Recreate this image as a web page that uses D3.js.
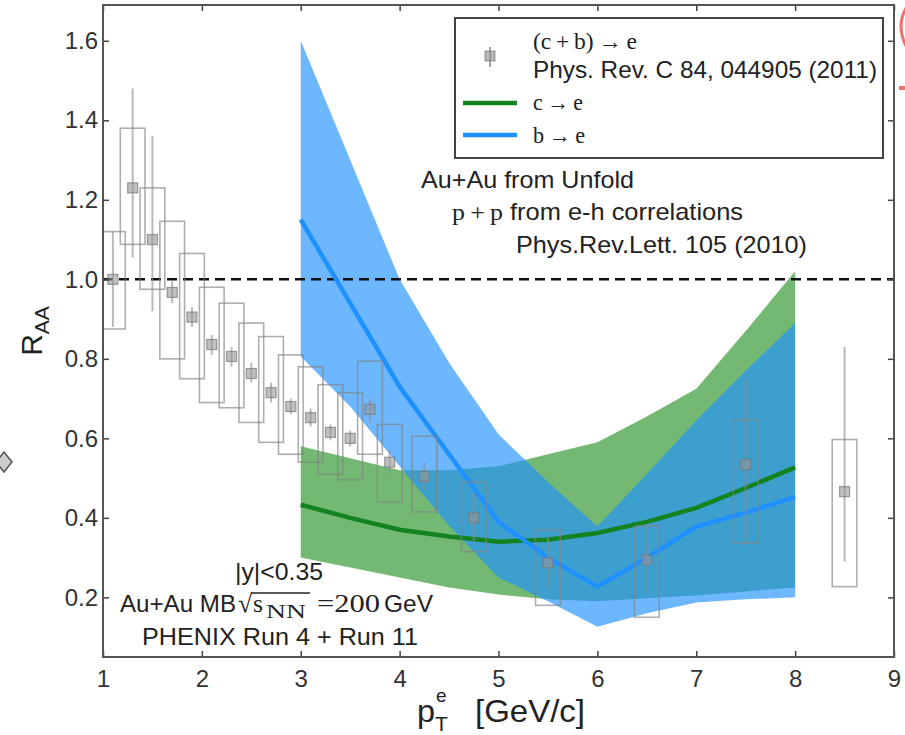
<!DOCTYPE html>
<html><head><meta charset="utf-8">
<script src="https://cdn.jsdelivr.net/npm/d3@7"></script>
<style>body{margin:0;background:#fff}svg{display:block}</style>
</head><body>
<svg id="chart" width="905" height="735"></svg>
<script>
// ---- data: (c+b)->e measurement ----
const ptBins   = [1.1,1.3,1.5,1.7,1.9,2.1,2.3,2.5,2.7,2.9,3.1,3.3,3.5,3.7,3.9,4.25,4.75,5.5,6.5,7.5,8.5];
const raa      = [1.00,1.23,1.10,0.967,0.905,0.836,0.806,0.763,0.715,0.68,0.652,0.615,0.60,0.673,0.54,0.504,0.40,0.287,0.295,0.534,0.466];
const statLow  = [0.88,1.055,0.92,0.94,0.88,0.81,0.78,0.74,0.69,0.66,0.63,0.595,0.58,0.64,0.51,0.47,0.34,0.22,0.21,0.33,0.29];
const statHigh = [1.12,1.48,1.36,0.995,0.93,0.86,0.83,0.79,0.74,0.70,0.675,0.635,0.62,0.70,0.57,0.54,0.46,0.35,0.38,0.75,0.83];
const sysLow   = [0.875,1.088,0.975,0.80,0.75,0.69,0.677,0.64,0.59,0.56,0.54,0.51,0.496,0.56,0.44,0.415,0.315,0.18,0.15,0.337,0.227];
const sysHigh  = [1.12,1.38,1.23,1.146,1.065,0.98,0.94,0.89,0.856,0.81,0.78,0.735,0.715,0.794,0.635,0.605,0.49,0.37,0.38,0.647,0.597];
// ---- data: unfolded c->e and b->e ----
const modelPt  = [3,3.5,4,4.5,5,5.5,6,6.5,7,7.5,8];
const cCentral = [0.433,0.40,0.37,0.353,0.34,0.345,0.362,0.39,0.425,0.475,0.527];
const cLow     = [0.30,0.275,0.25,0.225,0.207,0.195,0.19,0.198,0.205,0.215,0.225];
const cHigh    = [0.58,0.55,0.52,0.52,0.53,0.56,0.59,0.655,0.725,0.87,1.02];
const bCentral = [1.15,0.94,0.73,0.56,0.39,0.30,0.227,0.30,0.378,0.413,0.453];
const bLow     = [0.806,0.68,0.53,0.38,0.25,0.19,0.126,0.16,0.187,0.195,0.20];
const bHigh    = [1.60,1.30,1.00,0.79,0.61,0.49,0.378,0.51,0.645,0.77,0.89];
// ---- axes ----
const xTicks = [1,2,3,4,5,6,7,8,9];
const yTicks = [0.2,0.4,0.6,0.8,1.0,1.2,1.4,1.6];
const boxWidth = 0.25;
const refLine = 1.0;

const L=103, R=894, T=5, B=657;
const svg = d3.select('#chart');
const x = d3.scaleLinear().domain([1,9]).range([L,R]);
const y = d3.scaleLinear().domain([0.05,1.69]).range([B,T]);
const SANS = "'Liberation Sans', Arial, sans-serif";
const SERIF = "'Liberation Serif', 'DejaVu Serif', serif";
const txt = '#222';

svg.append('defs').append('clipPath').attr('id','clip')
  .append('rect').attr('x',L).attr('y',T).attr('width',R-L).attr('height',B-T);
const plot = svg.append('g').attr('clip-path','url(#clip)');

const mk = (lo,hi) => modelPt.map((p,i)=>({p, lo:lo[i], hi:hi[i]}));
const area = d3.area().x(d=>x(d.p)).y0(d=>y(d.lo)).y1(d=>y(d.hi));
const line = d3.line().x(d=>x(d.p)).y(d=>y(d.v));

plot.append('path').datum(mk(cLow,cHigh)).attr('d',area)
  .attr('fill','rgb(0,128,0)').attr('fill-opacity',0.55);
plot.append('path').datum(mk(bLow,bHigh)).attr('d',area)
  .attr('fill','rgb(30,144,255)').attr('fill-opacity',0.65);

plot.append('line').attr('x1',L).attr('x2',R).attr('y1',y(refLine)).attr('y2',y(refLine))
  .attr('stroke','#111').attr('stroke-width',2.5).attr('stroke-dasharray','10,6');

plot.append('path').datum(modelPt.map((p,i)=>({p,v:cCentral[i]}))).attr('d',line)
  .attr('fill','none').attr('stroke','rgb(20,130,30)').attr('stroke-width',4.5);
plot.append('path').datum(modelPt.map((p,i)=>({p,v:bCentral[i]}))).attr('d',line)
  .attr('fill','none').attr('stroke','rgb(30,144,255)').attr('stroke-width',4.5);

// data points
const pts = ptBins.map((p,i)=>({p,v:raa[i],sl:statLow[i],sh:statHigh[i],yl:sysLow[i],yh:sysHigh[i]}));
const pg = plot.append('g');
pg.selectAll('rect.sys').data(pts).join('rect').attr('class','sys')
  .attr('x',d=>x(d.p-boxWidth/2)).attr('width',d=>x(d.p+boxWidth/2)-x(d.p-boxWidth/2))
  .attr('y',d=>y(d.yh)).attr('height',d=>y(d.yl)-y(d.yh))
  .attr('fill','none').attr('stroke','rgba(130,130,130,0.65)').attr('stroke-width',1.6);
pg.selectAll('line.stat').data(pts).join('line').attr('class','stat')
  .attr('x1',d=>x(d.p)).attr('x2',d=>x(d.p)).attr('y1',d=>y(d.sl)).attr('y2',d=>y(d.sh))
  .attr('stroke','rgba(140,140,140,0.6)').attr('stroke-width',2);
pg.selectAll('rect.pt').data(pts).join('rect').attr('class','pt')
  .attr('x',d=>x(d.p)-5).attr('y',d=>y(d.v)-5).attr('width',10).attr('height',10)
  .attr('fill','rgba(150,150,150,0.6)').attr('stroke','rgba(120,120,120,0.7)').attr('stroke-width',1.2);

// axes
const axStyle = g => { g.select('.domain').remove();
  g.selectAll('.tick line').attr('stroke','#444').attr('stroke-width',1.5);
  g.selectAll('.tick text').style('font-family',SANS).style('font-size','24px').attr('fill','#333'); };
svg.append('g').attr('transform',`translate(0,${B})`)
  .call(d3.axisBottom(x).tickValues(xTicks).tickSizeInner(-6).tickSizeOuter(0).tickPadding(13).tickFormat(d3.format('d'))).call(axStyle);
svg.append('g').attr('transform',`translate(${L},0)`)
  .call(d3.axisLeft(y).tickValues(yTicks).tickSizeInner(-6).tickSizeOuter(0).tickPadding(5).tickFormat(d3.format('.1f'))).call(axStyle);
svg.append('g').attr('transform',`translate(0,${T})`)
  .call(d3.axisTop(x).tickValues(xTicks).tickSizeInner(-6).tickSizeOuter(0).tickFormat('')).call(axStyle);
svg.append('g').attr('transform',`translate(${R},0)`)
  .call(d3.axisRight(y).tickValues(yTicks).tickSizeInner(-6).tickSizeOuter(0).tickFormat('')).call(axStyle);
svg.append('rect').attr('x',L).attr('y',T).attr('width',R-L).attr('height',B-T)
  .attr('fill','none').attr('stroke','#555').attr('stroke-width',2);

// text helper (optional fixed length to match the picture's extents)
function put(x0, y0, t, o={}){
  const el = svg.append('text').attr('x',x0).attr('y',y0)
    .style('font-family',o.f||SANS).style('font-size',(o.s||24)+'px').attr('fill',txt).text(t);
  if (o.len) el.attr('textLength',o.len).attr('lengthAdjust','spacingAndGlyphs');
  return el;
}

// legend
svg.append('rect').attr('x',455).attr('y',18).attr('width',428).attr('height',140)
  .attr('fill','#fff').attr('stroke','#444').attr('stroke-width',2);
svg.append('line').attr('x1',490).attr('x2',490).attr('y1',47).attr('y2',67)
  .attr('stroke','rgba(140,140,140,0.8)').attr('stroke-width',2);
svg.append('rect').attr('x',485).attr('y',51).attr('width',10).attr('height',10)
  .attr('fill','rgba(150,150,150,0.7)').attr('stroke','rgba(120,120,120,0.7)');
svg.append('line').attr('x1',463).attr('x2',517).attr('y1',103).attr('y2',103)
  .attr('stroke','rgb(20,130,30)').attr('stroke-width',4.5);
svg.append('line').attr('x1',463).attr('x2',517).attr('y1',135).attr('y2',135)
  .attr('stroke','rgb(30,144,255)').attr('stroke-width',4.5);
put(533,49,'(c\u2009+\u2009b)\u2009\u2192\u2009e',{f:SERIF,s:23,len:104});
put(533,78,'Phys. Rev. C 84, 044905 (2011)',{s:24,len:344});
put(533,110,'c\u2009\u2192\u2009e',{f:SERIF,s:23,len:50});
put(533,143,'b\u2009\u2192\u2009e',{f:SERIF,s:23,len:52});

// annotations
put(421,188,'Au+Au from Unfold',{s:24,len:213});
put(452,220,'p\u2009+\u2009p',{f:SERIF,s:24,len:51});
put(510,220,'from e-h correlations',{s:24,len:233});
put(516,253,'Phys.Rev.Lett. 105 (2010)',{s:24,len:291});

put(235,580,'|y|<0.35',{s:24,len:88});
put(120,612,'Au+Au MB',{s:24,len:116});
put(238,612,'\u221A',{f:SERIF,s:26});
put(253,612,'s',{f:SERIF,s:25,len:10});
put(266,618,'NN',{f:SERIF,s:19,len:40});
svg.append('line').attr('x1',251).attr('x2',310).attr('y1',593).attr('y2',593)
  .attr('stroke',txt).attr('stroke-width',1.5);
put(317,612,'=200',{f:SERIF,s:26,len:63});
put(384,612,'GeV',{s:24,len:49});
put(142,645,'PHENIX Run 4 + Run 11',{s:24,len:276});

// axis titles
put(417,722,'p',{s:32,len:18});
put(435,731,'T',{s:21});
put(436,702,'e',{s:19});
put(475,722,'[GeV/c]',{s:32,len:110});

const yl = svg.append('text').attr('transform','translate(42,331) rotate(-90)')
  .attr('text-anchor','middle').style('font-family',SANS).attr('fill',txt);
yl.append('tspan').style('font-size','30px').text('R');
yl.append('tspan').style('font-size','21px').attr('dy',7).text('AA');

// cropped edge artefacts in the picture
svg.append('path').attr('d','M4,452 L12,462 L4,472 L-4,462 Z').attr('fill','#ccc').attr('stroke','#555').attr('stroke-width',1.5);
svg.append('path').attr('d','M906,8 Q896,26 906,46').attr('fill','none').attr('stroke','#f07070').attr('stroke-width',3);
svg.append('line').attr('x1',899).attr('x2',905).attr('y1',88).attr('y2',88).attr('stroke','#f07070').attr('stroke-width',4);
</script>
</body></html>
